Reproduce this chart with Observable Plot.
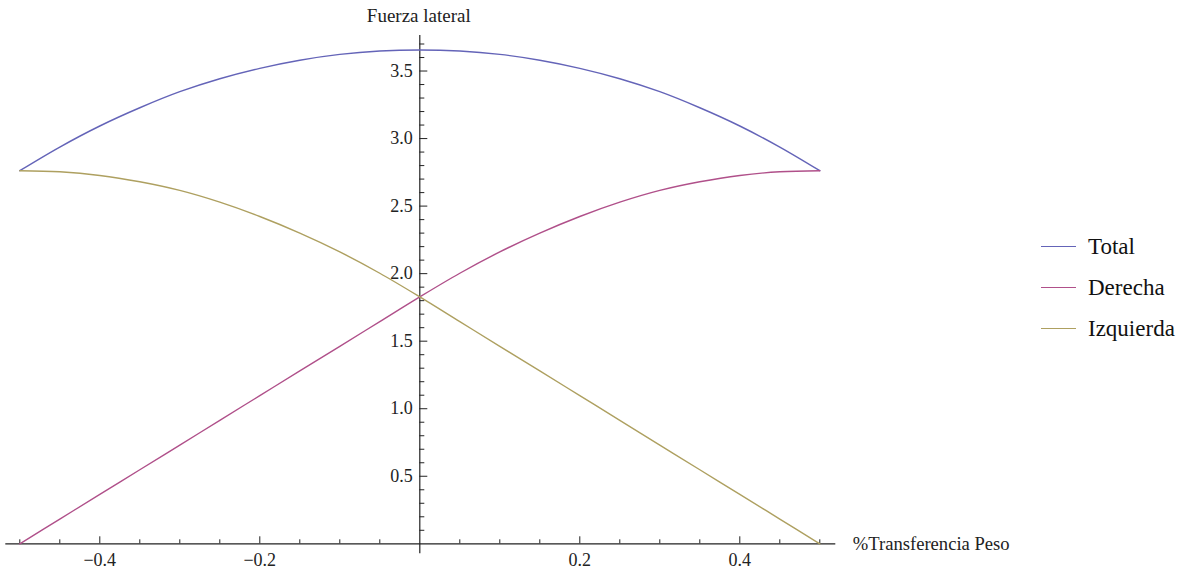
<!DOCTYPE html>
<html>
<head>
<meta charset="utf-8">
<script src="https://cdn.jsdelivr.net/npm/d3@7"></script>
<script src="https://cdn.jsdelivr.net/npm/@observablehq/plot@0.6"></script>
<style>
  html, body { margin: 0; padding: 0; background: #fff; }
  #wrap { position: relative; width: 1185px; height: 575px; }
  #legend { position: absolute; left: 1041px; top: 226px; font-family: "Liberation Serif", "Times New Roman", serif; font-size: 23px; color: #111; }
  .row { display: flex; align-items: center; height: 41px; }
  .sw { width: 35px; height: 0; border-top: 1.5px solid; margin-right: 12px; }
</style>
</head>
<body>
<div id="wrap"><div id="chart"></div><div id="legend"></div></div>
<script>
// % weight transfer (x)
const transfer = [-0.5,-0.45,-0.4,-0.35,-0.3,-0.25,-0.2,-0.15,-0.1,-0.05,0,0.05,0.1,0.15,0.2,0.25,0.3,0.35,0.4,0.45,0.5];
// lateral force series
const total     = [2.762,2.937,3.093,3.228,3.347,3.443,3.520,3.580,3.623,3.648,3.656,3.648,3.623,3.580,3.520,3.443,3.347,3.228,3.093,2.937,2.762];
const derecha   = [0,0.183,0.366,0.548,0.731,0.914,1.097,1.280,1.462,1.645,1.828,2.003,2.161,2.300,2.423,2.529,2.616,2.680,2.727,2.754,2.762];
const izquierda = [2.762,2.754,2.727,2.680,2.616,2.529,2.423,2.300,2.161,2.003,1.828,1.645,1.462,1.280,1.097,0.914,0.731,0.548,0.366,0.183,0];

const seriesNames = ["Total", "Derecha", "Izquierda"];
const seriesColors = ["#6464b8", "#b0508a", "#aea060"];

const xTickLabels = [-0.4, -0.2, 0.2, 0.4];
const xMinorTicks = [-0.5,-0.45,-0.35,-0.3,-0.25,-0.15,-0.1,-0.05,0.05,0.1,0.15,0.25,0.3,0.35,0.45,0.5];
const yTickLabels = [0.5, 1.0, 1.5, 2.0, 2.5, 3.0, 3.5];
const yMinorTicks = [0.1,0.2,0.3,0.4,0.6,0.7,0.8,0.9,1.1,1.2,1.3,1.4,1.6,1.7,1.8,1.9,2.1,2.2,2.3,2.4,2.6,2.7,2.8,2.9,3.1,3.2,3.3,3.4,3.6,3.7];

const xAxisLabel = "%Transferencia Peso";
const yAxisLabel = "Fuerza lateral";

const rows = [];
[total, derecha, izquierda].forEach((vals, s) => {
  vals.forEach((v, i) => rows.push({serie: seriesNames[s], x: transfer[i], y: v}));
});

const font = '"Liberation Serif", "Times New Roman", serif';
const yTop = 3.763;
const pxY = 1 / 135;   // one pixel in y data units
const pxX = 1 / 800;   // one pixel in x data units
const fmt = d => (d < 0 ? "\u2212" : "") + Math.abs(d).toFixed(1);

const chart = Plot.plot({
  width: 1030,
  height: 575,
  marginLeft: 19.3,
  marginRight: 210.7,
  marginTop: 35,
  marginBottom: 31.7,
  style: {fontFamily: font, background: "#fff"},
  x: {domain: [-0.5, 0.5], axis: null},
  y: {domain: [0, yTop], axis: null},
  color: {domain: seriesNames, range: seriesColors},
  marks: [
    // axes lines
    Plot.ruleY([0], {x1: -0.5 - 14 * pxX, x2: 0.5 + 16 * pxX, stroke: "#222", strokeWidth: 1.2}),
    Plot.ruleX([0], {y1: -10 * pxY, y2: yTop, stroke: "#222", strokeWidth: 1.2}),
    // x ticks (upward)
    Plot.ruleX(xMinorTicks, {x: d => d, y1: 0, y2: 4 * pxY, stroke: "#222", strokeWidth: 1}),
    Plot.ruleX(xTickLabels, {x: d => d, y1: 0, y2: 7 * pxY, stroke: "#222", strokeWidth: 1}),
    // y ticks (rightward)
    Plot.ruleY(yMinorTicks, {y: d => d, x1: 0, x2: 5 * pxX, stroke: "#222", strokeWidth: 1}),
    Plot.ruleY(yTickLabels, {y: d => d, x1: 0, x2: 8 * pxX, stroke: "#222", strokeWidth: 1}),
    // tick labels
    Plot.text(xTickLabels, {x: d => d, y: 0, text: fmt, dy: 16, fontSize: 18, fill: "#222", fontFamily: font}),
    Plot.text(yTickLabels, {x: 0, y: d => d, text: d => d.toFixed(1), textAnchor: "end", dx: -7, fontSize: 18, fill: "#222", fontFamily: font}),
    // axis labels
    Plot.text([xAxisLabel], {x: 0.5, y: 0, text: d => d, textAnchor: "start", dx: 33, fontSize: 18.6, fill: "#222", fontFamily: font}),
    Plot.text([yAxisLabel], {x: 0, y: yTop, text: d => d, dy: -20, dx: -1, fontSize: 19, fill: "#222", fontFamily: font}),
    // curves
    Plot.line(rows, {x: "x", y: "y", z: "serie", stroke: "serie", strokeWidth: 1.4, curve: "catmull-rom"})
  ]
});
document.getElementById("chart").appendChild(chart);

const legend = document.getElementById("legend");
seriesNames.forEach((n, i) => {
  const r = document.createElement("div");
  r.className = "row";
  r.innerHTML = `<span class="sw" style="border-color:${seriesColors[i]}"></span><span>${n}</span>`;
  legend.appendChild(r);
});
</script>
</body>
</html>
